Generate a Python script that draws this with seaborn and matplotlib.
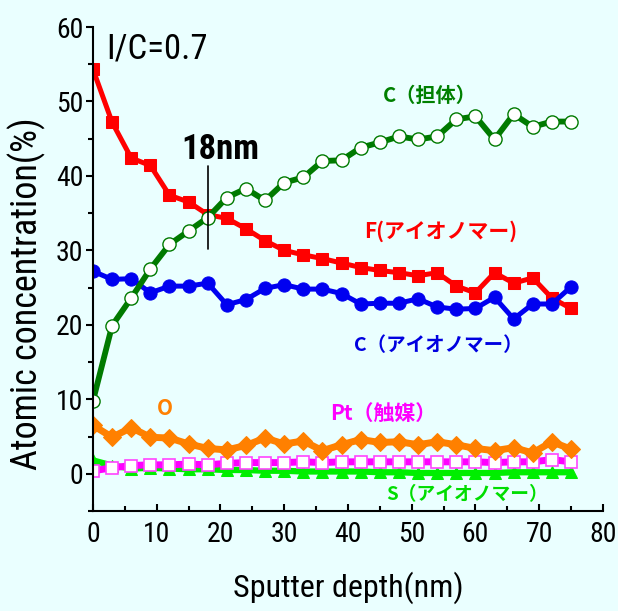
import matplotlib
matplotlib.use("Agg")
import numpy as np
import pandas as pd
import matplotlib.pyplot as plt
import seaborn as sns
from matplotlib.ticker import MultipleLocator


# Données
# ***********************************************************************************************

depth = [0, 3, 6, 9, 12, 15, 18, 21, 24, 27, 30, 33, 36, 39, 42, 45, 48, 51, 54, 57, 60, 63, 66, 69, 72, 75]

f_ionomer = [54.3, 47.2, 42.4, 41.4, 37.4, 36.5, 34.8, 34.3, 32.9, 31.3, 30.0, 29.4, 28.9, 28.3, 27.7, 27.3,
             27.0, 26.6, 27.0, 25.2, 24.3, 27.0, 25.6, 26.3, 23.6, 22.2]
c_ionomer = [27.2, 26.1, 26.2, 24.3, 25.2, 25.2, 25.6, 22.7, 23.4, 24.9, 25.4, 24.8, 24.8, 24.2, 22.8, 22.9,
             22.9, 23.5, 22.4, 22.1, 22.2, 23.7, 20.8, 22.8, 22.8, 25.1]
c_support = [9.8, 19.9, 23.6, 27.5, 30.8, 32.6, 34.4, 37.1, 38.3, 36.7, 39.1, 39.8, 42.0, 42.1, 43.8, 44.5,
             45.3, 44.9, 45.3, 47.6, 48.0, 44.9, 48.3, 46.6, 47.3, 47.3]
oxygen = [6.5, 4.9, 6.2, 4.9, 4.8, 4.0, 3.4, 3.2, 3.8, 4.8, 4.0, 4.4, 3.1, 3.9, 4.6, 4.2,
          4.3, 3.9, 4.3, 3.9, 3.4, 3.1, 3.5, 2.8, 4.3, 3.3]
platinum = [0.4, 0.8, 1.1, 1.2, 1.2, 1.3, 1.2, 1.4, 1.5, 1.5, 1.5, 1.6, 1.5, 1.6, 1.6, 1.6,
            1.6, 1.6, 1.6, 1.6, 1.6, 1.5, 1.6, 1.6, 1.9, 1.6]
sulfur = [1.8, 1.1, 0.7, 0.8, 0.7, 0.6, 0.6, 0.5, 0.5, 0.4, 0.4, 0.3, 0.3, 0.3, 0.3, 0.2,
          0.2, 0.1, 0.1, 0.1, 0.1, 0.1, 0.2, 0.2, 0.2, 0.2]

fond = '#eaffff'
narrow = ['Liberation Sans Narrow', 'Roboto Condensed', 'Open Sans Condensed', 'Liberation Sans', 'DejaVu Sans']
cjk = ['Noto Sans CJK JP', 'DejaVu Sans']


def tracer():
    sns.set_theme(style="ticks")
    plt.rcParams['font.family'] = narrow

    fig = plt.figure(figsize=(6.18, 6.11), dpi=100, facecolor=fond)
    ax = fig.add_axes([0.1505, 0.1637, 0.825, 0.7921])
    ax.set_facecolor(fond)

    # Séries (ordre = superposition)
    sns.lineplot(x=depth, y=sulfur, ax=ax, color='#00ee00', linewidth=4.5, marker='^',
                 markersize=9, markerfacecolor='#00ee00', markeredgecolor='#00ee00')
    sns.lineplot(x=depth, y=platinum, ax=ax, color='#ff00ff', linewidth=5, marker='s',
                 markersize=8.5, markerfacecolor='white', markeredgecolor='#ff44ff', markeredgewidth=1.2)
    sns.lineplot(x=depth, y=oxygen, ax=ax, color='#ff8000', linewidth=5, marker='D',
                 markersize=9.5, markerfacecolor='#ff8000', markeredgecolor='#ff8000')
    sns.lineplot(x=depth, y=f_ionomer, ax=ax, color='#ff0000', linewidth=3.6, marker='s',
                 markersize=8.5, markerfacecolor='#ff0000', markeredgecolor='#ff0000')
    sns.lineplot(x=depth, y=c_ionomer, ax=ax, color='#0000f0', linewidth=3.6, marker='o',
                 markersize=9.5, markerfacecolor='#0000f0', markeredgecolor='#0000f0')
    sns.lineplot(x=depth, y=c_support, ax=ax, color='#007a00', linewidth=4.2, marker='o',
                 markersize=9.5, markerfacecolor='white', markeredgecolor='#007a00', markeredgewidth=1.0)

    # Axes
    ax.set_xlim(0, 80)
    ax.set_ylim(-5, 60)
    ax.xaxis.set_major_locator(MultipleLocator(10))
    ax.xaxis.set_minor_locator(MultipleLocator(5))
    ax.yaxis.set_major_locator(MultipleLocator(10))
    ax.yaxis.set_minor_locator(MultipleLocator(5))
    ax.tick_params(axis='x', which='both', direction='in', width=1.5, colors='black', labelsize=20, pad=7)
    ax.tick_params(axis='x', which='major', length=5)
    ax.tick_params(axis='x', which='minor', length=3.5)
    ax.tick_params(axis='y', which='both', direction='out', width=1.5, colors='black', labelsize=20, pad=2)
    ax.tick_params(axis='y', which='major', length=5)
    ax.tick_params(axis='y', which='minor', length=3.5)
    for s in ['top', 'right']:
        ax.spines[s].set_visible(False)
    for s in ['left', 'bottom']:
        ax.spines[s].set_linewidth(1.5)
        ax.spines[s].set_color('black')

    ax.set_xlabel('Sputter depth(nm)', fontsize=23, color='black', labelpad=17)
    ax.set_ylabel('Atomic concentration(%)', fontsize=26, color='black', labelpad=1)
    ax.yaxis.set_label_coords(-0.092, 0.45)

    # Annotations
    ax.text(2, 57.0, 'I/C=0.7', fontsize=25, color='black', ha='left', va='center')
    ax.text(20, 43.5, '18nm', fontsize=25, fontweight='bold', color='black', ha='center', va='center')
    ax.plot([18, 18], [30.2, 41.3], color='black', linewidth=1.2)

    etiquettes = [
        (45.5, 50.8, 'C（担体）', '#008000', 14.5),
        (42.5, 32.6, 'F(アイオノマー)', '#ff0000', 15),
        (41.0, 17.2, 'C（アイオノマー）', '#0000e0', 14),
        (10.0, 8.8, 'O', '#ff8000', 15),
        (37.2, 8.1, 'Pt（触媒）', '#ff00ff', 15),
        (46.0, -2.8, 'S（アイオノマー）', '#00dd00', 13.5),
    ]
    for x, y, txt, c, fs in etiquettes:
        ax.text(x, y, txt, fontsize=fs, fontweight='bold', color=c, ha='left', va='center', family=cjk)

    fig.savefig('out.png', dpi=100, facecolor=fond)
    plt.close(fig)


if __name__ == "__main__":
    tracer()
